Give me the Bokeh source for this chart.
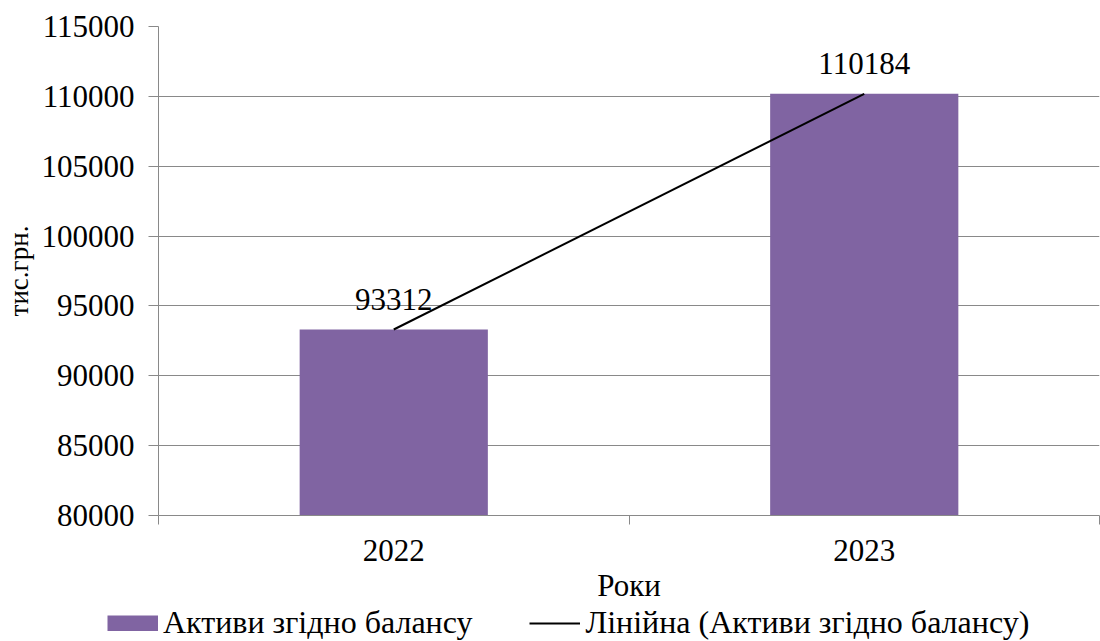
import numpy as np
from bokeh.plotting import figure
from bokeh.layouts import column
from bokeh.models import (Range1d, FixedTicker, Legend, LegendItem)
from bokeh.core.properties import value
from bokeh.embed import file_html
from bokeh.resources import INLINE

# ---- data ----
years = ["2022", "2023"]
assets = [93312, 110184]
y_ticks = [80000, 85000, 90000, 95000, 100000, 105000, 110000, 115000]
series_name = "Активи згідно балансу"
trend_name = "Лінійна (Активи згідно балансу)"
x_title = "Роки"
y_title = "тис.грн."

FONT = "'Liberation Serif', 'Times New Roman', serif"
BAR = "#8064A2"
GRID = "#898989"

n = len(years)
xs = [i + 0.5 for i in range(n)]
y0, y1 = y_ticks[0], y_ticks[-1]

p = figure(width=1100, height=605, output_backend="svg", toolbar_location=None,
           x_range=Range1d(0, n), y_range=Range1d(y0, y1),
           min_border_left=158, min_border_right=1, min_border_top=26,
           min_border_bottom=88)
p.frame_align = False
p.outline_line_color = None
p.background_fill_color = "white"
p.border_fill_color = "white"

bars = p.vbar(x=xs, top=assets, bottom=y0, width=0.4, fill_color=BAR, line_color=None)

# linear trend line (least squares)
coef = np.polyfit(xs, assets, 1)
trend = list(np.polyval(coef, xs))
tl = p.line(xs, trend, line_color="black", line_width=2)

# value labels
p.text(x=xs, y=assets, text=[str(v) for v in assets], text_align="center",
       text_baseline="alphabetic", y_offset=-30, text_font=value(FONT),
       text_font_size="31px", text_color="black")

# y axis
ya = p.yaxis[0]
ya.ticker = FixedTicker(ticks=y_ticks, minor_ticks=[])
ya.major_tick_out = 10
ya.major_tick_in = 0
ya.axis_line_color = GRID
ya.major_tick_line_color = GRID
ya.major_label_text_font = FONT
ya.major_label_text_font_size = "31px"
ya.major_label_text_color = "black"
ya.major_label_standoff = 14
ya.axis_label = y_title
ya.axis_label_text_font = FONT
ya.axis_label_text_font_size = "27px"
ya.axis_label_text_font_style = "normal"
ya.axis_label_text_color = "black"
ya.axis_label_standoff = 5
ya.formatter.use_scientific = False

# x axis: labels at centres, ticks at category boundaries
xa = p.xaxis[0]
xa.ticker = FixedTicker(ticks=xs, minor_ticks=list(range(n + 1)))
xa.major_label_overrides = {x: y for x, y in zip(xs, years)}
xa.major_tick_out = 0
xa.major_tick_in = 0
xa.minor_tick_out = 9
xa.minor_tick_in = 0
xa.minor_tick_line_color = GRID
xa.axis_line_color = GRID
xa.major_label_text_font = FONT
xa.major_label_text_font_size = "31px"
xa.major_label_text_color = "black"
xa.major_label_standoff = 15
xa.axis_label = x_title
xa.axis_label_text_font = FONT
xa.axis_label_text_font_size = "31px"
xa.axis_label_text_font_style = "normal"
xa.axis_label_text_color = "black"
xa.axis_label_standoff = 4

p.xgrid.grid_line_color = None
p.ygrid.ticker = FixedTicker(ticks=y_ticks)
p.ygrid.grid_line_color = GRID
p.ygrid.grid_line_width = 1

# legend strip (separate figure so it can extend left of the plot frame)
lg = figure(width=1100, height=36, output_backend="svg", toolbar_location=None,
            x_axis_type=None, y_axis_type=None,
            x_range=Range1d(0, 1), y_range=Range1d(0, 1),
            min_border_left=0, min_border_right=0, min_border_top=0,
            min_border_bottom=0)
lg.frame_align = False
lg.outline_line_color = None
lg.grid.visible = False
# proxy renderers: same data, far outside this strip's (0..1) ranges, so only
# their legend glyphs are visible
proxy_bar = lg.line(x=xs, y=assets, line_color=BAR, line_width=16, line_cap="butt")
proxy_line = lg.line(x=xs, y=trend, line_color="black", line_width=2)
legend = Legend(items=[LegendItem(label=series_name, renderers=[proxy_bar]),
                       LegendItem(label=trend_name, renderers=[proxy_line])],
                orientation="horizontal", location=(107, 0),
                glyph_width=51, glyph_height=16, label_standoff=5, spacing=57,
                padding=0, margin=0, border_line_alpha=0, background_fill_alpha=0,
                label_text_font=FONT, label_text_font_size="32px",
                label_text_color="black")
lg.add_layout(legend, "center")

layout = column(p, lg, spacing=0)
open("out.html", "w").write(file_html(layout, INLINE))
